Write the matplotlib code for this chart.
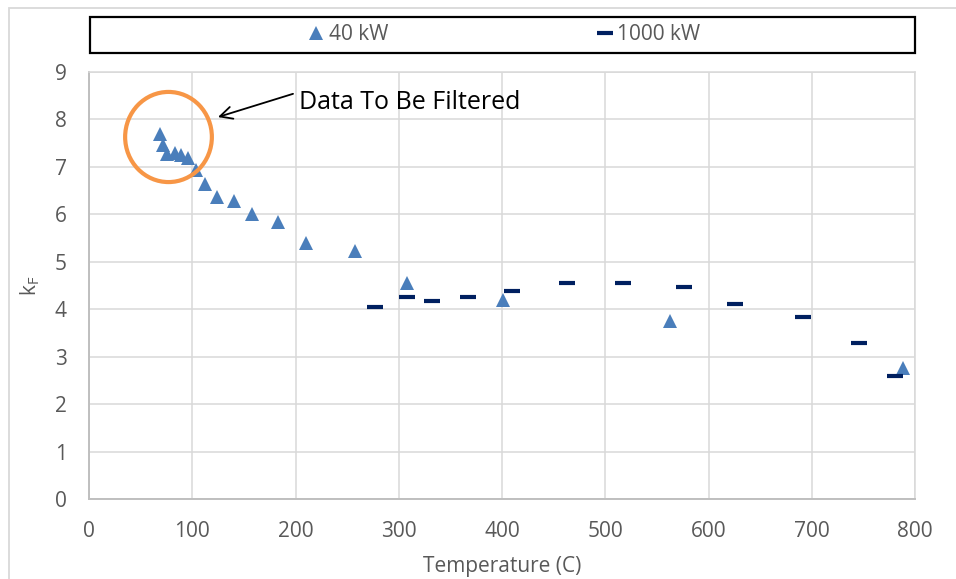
import matplotlib
matplotlib.use("Agg")
import matplotlib.pyplot as plt
from matplotlib.patches import Ellipse, Rectangle
from matplotlib.lines import Line2D

plt.rcParams["font.family"] = ["Open Sans", "DejaVu Sans"]

# ── data: k_F vs temperature for the two burner ratings ──
temp_40kw = [68.8, 71.7, 75.5, 83.3, 89.1, 95.9, 103.6, 112.3, 124.0, 140.5,
             158.0, 183.0, 210.0, 258.0, 308.0, 401.0, 563.0, 788.0]
kf_40kw = [7.69, 7.46, 7.27, 7.29, 7.25, 7.19, 6.94, 6.64, 6.37, 6.28,
           6.01, 5.84, 5.40, 5.23, 4.55, 4.19, 3.75, 2.76]

temp_1000kw = [277, 308, 332, 367, 410, 463, 517, 576, 626, 692, 746, 781]
kf_1000kw = [4.05, 4.26, 4.17, 4.26, 4.38, 4.55, 4.55, 4.47, 4.11, 3.84, 3.29, 2.60]

x_ticks = [0, 100, 200, 300, 400, 500, 600, 700, 800]
y_ticks = [0, 1, 2, 3, 4, 5, 6, 7, 8, 9]

BLUE = "#4A7EBB"
NAVY = "#002060"
ORANGE = "#F79646"
GRID = "#D9D9D9"
TXT = "#595959"

W, H = 956, 579
fig = plt.figure(figsize=(W / 100, H / 100), dpi=100)
ax = fig.add_axes([89 / W, (H - 499) / H, (915 - 89) / W, (499 - 72) / H])

ax.plot(temp_40kw, kf_40kw, linestyle="none", marker="^", markersize=10,
        color=BLUE, markeredgewidth=0, zorder=4)
ax.plot(temp_1000kw, kf_1000kw, linestyle="none", marker="_", markersize=11,
        markeredgewidth=3, color=NAVY, zorder=4)

ax.set_xlim(0, 800)
ax.set_ylim(0, 9)
ax.set_xticks(x_ticks)
ax.set_yticks(y_ticks)
ax.grid(True, color=GRID, linewidth=1.1, zorder=0)
ax.set_axisbelow(True)
for side in ("top", "right"):
    ax.spines[side].set_color(GRID)
    ax.spines[side].set_linewidth(1.1)
for side in ("left", "bottom"):
    ax.spines[side].set_color("#BFBFBF")
    ax.spines[side].set_linewidth(1.4)
ax.tick_params(length=0, labelsize=15, labelcolor=TXT)
ax.tick_params(axis="x", pad=16)
ax.tick_params(axis="y", pad=16)

ax.set_xlabel("Temperature (C)", fontsize=15, color=TXT, labelpad=10)
ax.set_ylabel(r"k$_{\mathregular{F}}$", fontsize=15, color=TXT, labelpad=9)

# circle around the low-temperature points and the callout
ax.add_patch(Ellipse((77, 7.63), 84, 1.90, fill=False, edgecolor=ORANGE,
                     linewidth=3, zorder=5))
ax.annotate("", xy=(124.9, 8.05), xytext=(197.6, 8.54),
            arrowprops=dict(arrowstyle="->", color="black", lw=1.3,
                            mutation_scale=22, shrinkA=0, shrinkB=0))
ax.text(203, 8.36, "Data To Be Filtered", fontsize=18, color="black",
        ha="left", va="center")

# legend box across the top
fig.patches.append(Rectangle((90 / W, 1 - 53 / H), (915 - 90) / W, 36 / H,
                             transform=fig.transFigure, fill=False,
                             edgecolor="black", linewidth=1.6))
handles = [
    Line2D([], [], linestyle="none", marker="^", markersize=10,
           color=BLUE, markeredgewidth=0),
    Line2D([], [], linestyle="none", marker="_", markersize=11,
           markeredgewidth=3, color=NAVY),
]
fig.legend(handles, ["40 kW", "1000 kW"], loc="center",
           bbox_to_anchor=(504 / W, 1 - 35 / H), ncol=2, frameon=False,
           fontsize=15, labelcolor=TXT, handlelength=0.8,
           handletextpad=0.2, columnspacing=10.0)

# outer chart-area border
fig.patches.append(Rectangle((9 / W, -0.1), 1.2, 1 - 8 / H + 0.1,
                             transform=fig.transFigure, fill=False,
                             edgecolor=GRID, linewidth=1.3))

fig.savefig("out.png", dpi=100)
